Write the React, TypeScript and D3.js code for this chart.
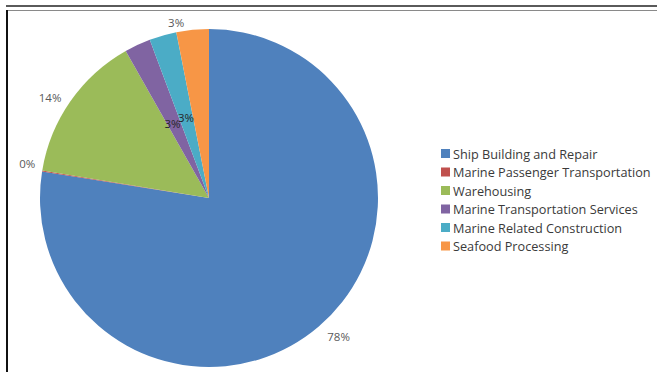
import React from "react";
import * as d3 from "d3";

// Share of employment by marine industry sector (percent)
const categories = [
  "Ship Building and Repair",
  "Marine Passenger Transportation",
  "Warehousing",
  "Marine Transportation Services",
  "Marine Related Construction",
  "Seafood Processing",
];
const values = [77.5, 0.1, 14.2, 2.5, 2.6, 3.1];
const colors = ["#4F81BD", "#C0504D", "#9BBB59", "#8064A2", "#4BACC6", "#F79646"];

// Label placement: distance from pie centre and small angular nudge (degrees)
const labelRadius = [190, 185, 188, 83, 84, 179];
const labelNudge = [-2.5, 1.5, -2.6, -1, 0, -5];
const labelInside = [false, false, false, true, true, false];

const W = 657;
const H = 372;
const cx = 209;
const cy = 198;
const R = 169;

export default function App() {
  const total = d3.sum(values);
  const pie = d3
    .pie<number>()
    .sort(null)
    .startAngle(0)
    .endAngle(2 * Math.PI)
    .value((d) => d);
  const arcs = pie(values);
  const arc = d3.arc<d3.PieArcDatum<number>>().innerRadius(0).outerRadius(R);
  const fmt = (v: number) => `${Math.round((v / total) * 100)}%`;

  const legendX = 441;
  const legendY = 153.5;
  const legendStep = 18.5;

  return (
    <svg
      width={W}
      height={H}
      style={{ position: "absolute", left: 0, top: 0, background: "#fff" }}
      fontFamily="'Open Sans', 'Noto Sans', sans-serif"
    >
      {/* frame */}
      <rect x={6} y={5} width={W - 6} height={2} fill="#5a5a5a" />
      <line x1={6} x2={W} y1={10.5} y2={10.5} stroke="#8a8a8a" strokeWidth={1} />
      <rect x={6} y={10} width={2} height={H - 10} fill="#111" />

      <g transform={`translate(${cx},${cy})`}>
        {arcs.map((a, i) => (
          <path key={categories[i]} d={arc(a) || ""} fill={colors[i]} />
        ))}
        {arcs.map((a, i) => {
          const mid = (a.startAngle + a.endAngle) / 2 + (labelNudge[i] * Math.PI) / 180;
          const r = labelRadius[i];
          const x = Math.sin(mid) * r;
          const y = -Math.cos(mid) * r;
          return (
            <text
              key={"l" + i}
              x={x}
              y={y}
              textAnchor="middle"
              dominantBaseline="central"
              fontSize={11.5}
              fill={labelInside[i] ? "#262626" : "#595959"}
            >
              {fmt(values[i])}
            </text>
          );
        })}
      </g>

      <g>
        {categories.map((c, i) => (
          <g key={c} transform={`translate(${legendX},${legendY + i * legendStep})`}>
            <rect x={0} y={-4.5} width={9} height={9} fill={colors[i]} />
            <text
              x={12}
              y={0}
              dominantBaseline="central"
              fontSize={12.7}
              fill="#3a3a3a"
            >
              {c}
            </text>
          </g>
        ))}
      </g>
    </svg>
  );
}
